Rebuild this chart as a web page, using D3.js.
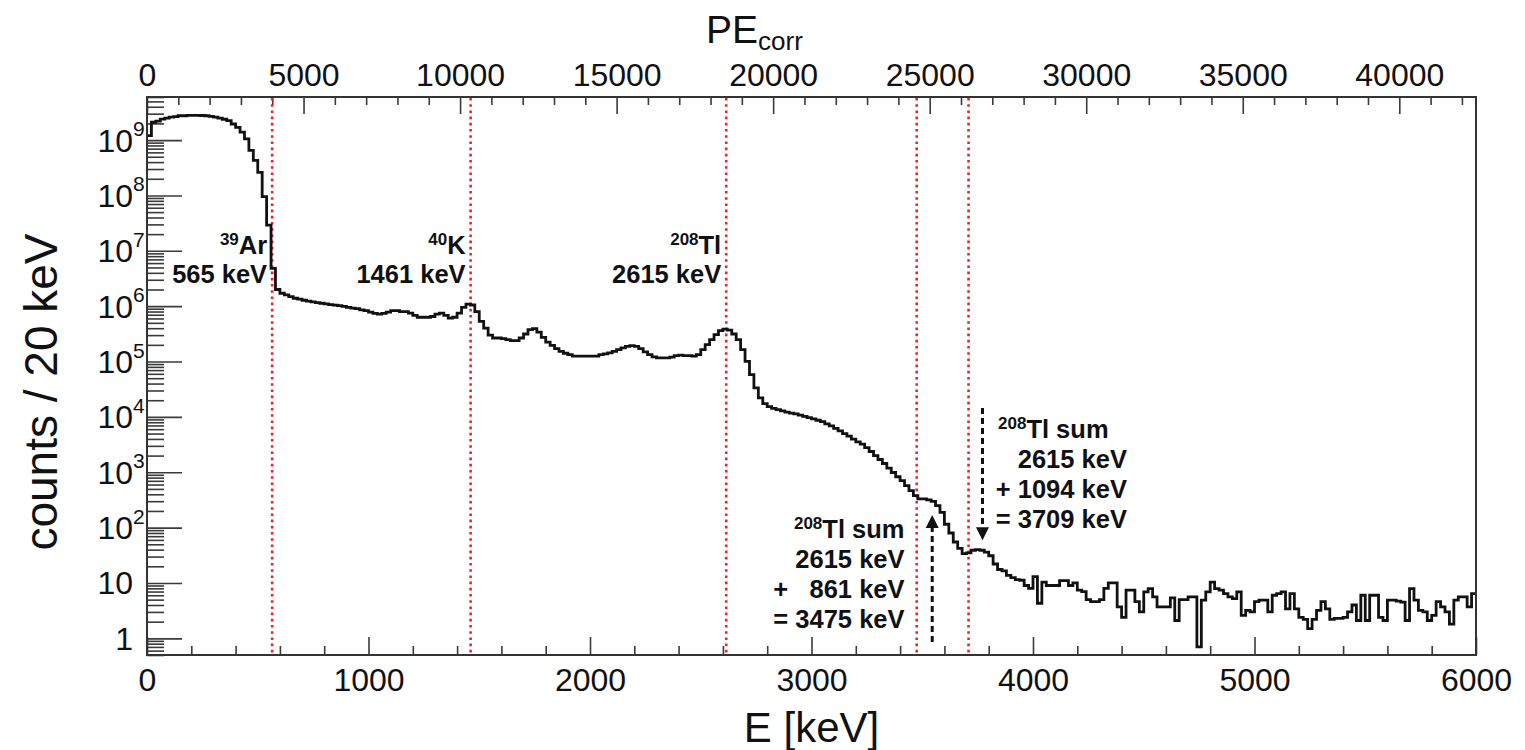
<!DOCTYPE html>
<html>
<head>
<meta charset="utf-8">
<script src="https://cdn.jsdelivr.net/npm/d3@7"></script>
<style>
  html, body { margin: 0; padding: 0; background: #fff; }
  svg { display: block; font-family: "Liberation Sans", Arial, Helvetica, sans-serif; }
  .ann { font-weight: bold; white-space: pre; fill: #111; }
</style>
</head>
<body>
<svg id="chart" width="1525" height="750"></svg>
<script>
// ---- data -------------------------------------------------------------
// Energy histogram, 20 keV bins from 0 to 6000 keV (counts per bin)
const binWidth = 20;
const counts = [
  1.2e9, 2.1e9, 2.2e9, 2.4e9, 2.5e9, 2.6e9, 2.65e9, 2.75e9, 2.75e9, 2.8e9,
  2.8e9, 2.8e9, 2.78e9, 2.75e9, 2.68e9, 2.6e9, 2.5e9, 2.38e9, 2.24e9, 1.95e9,
  1.7e9, 1.39e9, 1.05e9, 6.5e8, 4.3e8, 2.6e8, 9.5e7, 2.9e7, 4.8e6, 2.0e6,
  1.71e6, 1.6e6, 1.49e6, 1.39e6, 1.34e6, 1.28e6, 1.23e6, 1.2e6, 1.16e6, 1.13e6,
  1.1e6, 1.07e6, 1.04e6, 1.02e6, 9.9e5, 9.5e5, 9.2e5, 9.0e5, 8.6e5, 8.3e5,
  7.8e5, 7.4e5, 7.2e5, 7.4e5, 7.8e5, 8.3e5, 8.3e5, 8.0e5, 8.0e5, 7.5e5,
  6.8e5, 6.3e5, 6.3e5, 6.3e5, 6.5e5, 7.2e5, 7.5e5, 6.8e5, 6.1e5, 6.3e5,
  7.5e5, 9.5e5, 1.09e6, 1.05e6, 8.0e5, 5.3e5, 4.0e5, 3.0e5, 2.66e5, 2.66e5,
  2.59e5, 2.48e5, 2.39e5, 2.39e5, 2.66e5, 3.14e5, 3.76e5, 3.92e5, 3.41e5, 2.74e5,
  2.25e5, 1.96e5, 1.71e5, 1.53e5, 1.41e5, 1.33e5, 1.25e5, 1.25e5, 1.25e5, 1.25e5,
  1.25e5, 1.25e5, 1.33e5, 1.37e5, 1.43e5, 1.53e5, 1.64e5, 1.76e5, 1.88e5, 1.94e5,
  1.88e5, 1.71e5, 1.49e5, 1.33e5, 1.21e5, 1.16e5, 1.16e5, 1.16e5, 1.2e5, 1.28e5,
  1.3e5, 1.28e5, 1.28e5, 1.25e5, 1.33e5, 1.64e5, 2.02e5, 2.48e5, 3.06e5, 3.61e5,
  3.85e5, 3.7e5, 3.14e5, 2.48e5, 1.64e5, 1.01e5, 5.8e4, 3.35e4, 2.21e4, 1.73e4,
  1.53e4, 1.43e4, 1.35e4, 1.28e4, 1.22e4, 1.17e4, 1.13e4, 1.08e4, 1.02e4, 9.7e3,
  9.2e3, 8.7e3, 8.2e3, 7.5e3, 6.9e3, 6.2e3, 5.6e3, 5.0e3, 4.5e3, 3.95e3,
  3.54e3, 3.22e3, 2.79e3, 2.37e3, 2.0e3, 1.7e3, 1.44e3, 1.19e3, 990, 830,
  703, 571, 465, 378, 330, 330, 316, 298, 250, 189,
  115, 80, 55, 42, 34, 35, 39, 40, 39, 36,
  31, 22, 17.5, 16.5, 13.7, 12.5, 11.5, 11.2, 9, 8,
  13, 4.3, 10.4, 9, 9, 9, 11, 11, 9, 10,
  7.4, 7, 5, 4.6, 4.6, 5, 8, 10, 10, 3.7,
  2.4, 7.4, 7.4, 4.6, 3.0, 6.9, 7.9, 5.6, 3.7, 3.7,
  3.7, 5.4, 2.1, 5, 5, 5.6, 5.6, 0.7, 4.9, 6.9,
  10.4, 7.9, 7.4, 6.4, 5.6, 5.2, 6.9, 2.6, 3.2, 3.0,
  4.6, 4.9, 4.9, 3.0, 6.0, 6.4, 6.9, 3.4, 6.4, 3.4,
  2.4, 2.2, 1.5, 2.2, 3.2, 4.6, 3.4, 2.2, 2.3, 2.3,
  2.4, 3.0, 4.0, 2.1, 6.0, 2.1, 6.0, 6.0, 2.4, 2.1,
  4.9, 4.9, 4.7, 4.5, 2.1, 7.9, 4.9, 3.2, 3.0, 2.1,
  2.6, 4.6, 3.7, 3.0, 1.8, 4.9, 5.6, 5.6, 3.7, 6.4
];

// Axis ranges and tick values
const energyRange = [0, 6000];
const peRange = [0, 42450];
const countRange = [0.5, 6e9];
const energyTicks = [0, 1000, 2000, 3000, 4000, 5000, 6000];
const energyMinorStep = 200;
const peTicks = [0, 5000, 10000, 15000, 20000, 25000, 30000, 35000, 40000];
const peMinorStep = 1000;
const countDecades = [0, 1, 2, 3, 4, 5, 6, 7, 8, 9];

// Reference lines (keV) and their labels
const markerLines = [565, 1461, 2615, 3475, 3709];
const peakLabels = [
  { line: 565,  iso: "39",  el: "Ar", energy: "565 keV" },
  { line: 1461, iso: "40",  el: "K",  energy: "1461 keV" },
  { line: 2615, iso: "208", el: "Tl", energy: "2615 keV" }
];
const peakLabelLevel = 8.9e6;

// Summation peaks: text blocks and dashed arrows (energy in keV, heights in counts)
const sumBlocks = [
  { anchorE: 3420, level: 65,   lines: ["2615 keV", "+   861 keV", "= 3475 keV"], titleAlign: "end" },
  { anchorE: 4424, level: 4150, lines: ["2615 keV", "+ 1094 keV", "= 3709 keV"], titleAlign: "start", titleE: 3842 }
];
const sumArrows = [
  { e: 3545, tail: 0.86, tip: 169 },
  { e: 3772, tail: 14500, tip: 59 }
];

// ---- layout -----------------------------------------------------------
(function draw() {
const svg = d3.select("#chart");
const xL = 147, xR = 1476, yT = 97, yB = 655;
const x = d3.scaleLinear().domain(energyRange).range([xL, xR]);
const pe = d3.scaleLinear().domain(peRange).range([xL, xR]);
const y = d3.scaleLog().domain(countRange).range([yB, yT]);

const tickColor = "#3a3a3a";
const labelFont = 32;

function styleAxis(g) {
  g.select(".domain").remove();
  g.selectAll(".tick line").attr("stroke", tickColor).attr("stroke-width", 1.6);
  g.selectAll(".tick text").attr("fill", "#111").attr("font-size", labelFont)
    .attr("font-family", "Liberation Sans, Arial, sans-serif");
}

// bottom energy axis
const eMinor = d3.range(energyRange[0], energyRange[1] + 1, energyMinorStep)
  .filter(v => !energyTicks.includes(v));
svg.append("g").attr("transform", `translate(0,${yB})`)
  .call(d3.axisBottom(x).tickValues(eMinor).tickSizeInner(-9).tickSizeOuter(0).tickFormat(""))
  .call(styleAxis);
svg.append("g").attr("transform", `translate(0,${yB})`)
  .call(d3.axisBottom(x).tickValues(energyTicks).tickSizeInner(-18).tickSizeOuter(0).tickPadding(13).tickFormat(d3.format("d")))
  .call(styleAxis);

// top PE axis
const peMinor = d3.range(peRange[0], peRange[1], peMinorStep)
  .filter(v => !peTicks.includes(v));
svg.append("g").attr("transform", `translate(0,${yT})`)
  .call(d3.axisTop(pe).tickValues(peMinor).tickSizeInner(-8).tickSizeOuter(0).tickFormat(""))
  .call(styleAxis);
svg.append("g").attr("transform", `translate(0,${yT})`)
  .call(d3.axisTop(pe).tickValues(peTicks).tickSizeInner(-17).tickSizeOuter(0).tickPadding(11).tickFormat(d3.format("d")))
  .call(styleAxis);

// left log axis
const majorCounts = countDecades.map(d => Math.pow(10, d));
const minorCounts = [];
for (let d = -1; d <= 9; d++) {
  for (let m = 2; m <= 9; m++) {
    const v = m * Math.pow(10, d);
    if (v >= countRange[0] && v <= countRange[1]) minorCounts.push(v);
  }
}
svg.append("g").attr("transform", `translate(${xL},0)`)
  .call(d3.axisLeft(y).tickValues(minorCounts).tickSizeInner(-17).tickSizeOuter(0).tickFormat(""))
  .call(styleAxis);
svg.append("g").attr("transform", `translate(${xL},0)`)
  .call(d3.axisLeft(y).tickValues(majorCounts).tickSizeInner(-35).tickSizeOuter(0).tickFormat(""))
  .call(styleAxis);

// decade labels: 1, 10, 10^2 ... 10^9
const yLab = svg.append("g").attr("class", "ylabels");
countDecades.forEach(d => {
  const ty = y(Math.pow(10, d));
  const base = d === 0 ? "1" : "10";
  yLab.append("text").attr("x", xL - 14).attr("y", ty + 11.5)
    .attr("text-anchor", "end").attr("font-size", labelFont).attr("fill", "#111").text(base);
  if (d >= 2) {
    yLab.append("text").attr("x", xL - 14).attr("y", ty - 4)
      .attr("font-size", 21).attr("fill", "#111").text(String(d));
  }
});

// axis titles
svg.append("text").attr("transform", `translate(57,392) rotate(-90)`)
  .attr("text-anchor", "middle").attr("font-size", 46).attr("fill", "#111")
  .text("counts / 20 keV");
svg.append("text").attr("x", (xL + xR) / 2).attr("y", 742)
  .attr("text-anchor", "middle").attr("font-size", 42).attr("fill", "#111")
  .text("E [keV]");
const peTitle = svg.append("text").attr("x", 706).attr("y", 43).attr("font-size", 39).attr("fill", "#111");
peTitle.append("tspan").text("PE");
peTitle.append("tspan").attr("font-size", 26).attr("dy", 7).text("corr");

// dotted reference lines
svg.append("g").selectAll("line").data(markerLines).join("line")
  .attr("x1", d => x(d)).attr("x2", d => x(d))
  .attr("y1", y.range()[1] + 1).attr("y2", y.range()[0] - 1)
  .attr("stroke", "#f0202c").attr("stroke-width", 2.6).attr("stroke-dasharray", "2.6,3.6");

// histogram outline
const pts = counts.map((c, i) => [i * binWidth, c]);
pts.push([energyRange[1], counts[counts.length - 1]]);
svg.append("path").datum(pts)
  .attr("d", d3.line().x(d => x(d[0])).y(d => y(d[1])).curve(d3.curveStepAfter))
  .attr("fill", "none").attr("stroke", "#111").attr("stroke-width", 2.8)
  .attr("stroke-linejoin", "miter");

// frame
svg.append("rect").attr("x", xL).attr("y", yT).attr("width", xR - xL).attr("height", yB - yT)
  .attr("fill", "none").attr("stroke", "#333").attr("stroke-width", 2);

// peak labels
const annFont = 25.5, supFont = 17;
peakLabels.forEach(p => {
  const xr = x(p.line) - 5;
  const y1 = y(peakLabelLevel);
  const t = svg.append("text").attr("class", "ann").attr("x", xr).attr("y", y1)
    .attr("text-anchor", "end").attr("font-size", annFont);
  t.append("tspan").attr("font-size", supFont).attr("dy", -9).text(p.iso);
  t.append("tspan").attr("dy", 9).text(p.el);
  svg.append("text").attr("class", "ann").attr("x", xr).attr("y", y1 + 29)
    .attr("text-anchor", "end").attr("font-size", annFont).text(p.energy);
});

// summation blocks
sumBlocks.forEach(b => {
  const xr = x(b.anchorE);
  const y0 = y(b.level);
  const tx = b.titleAlign === "start" ? x(b.titleE) : xr;
  const t = svg.append("text").attr("class", "ann").attr("x", tx).attr("y", y0)
    .attr("text-anchor", b.titleAlign).attr("font-size", annFont);
  t.append("tspan").attr("font-size", supFont).attr("dy", -9).text("208");
  t.append("tspan").attr("dy", 9).text("Tl sum");
  b.lines.forEach((ln, i) => {
    svg.append("text").attr("class", "ann").attr("x", xr).attr("y", y0 + 30 * (i + 1))
      .attr("text-anchor", "end").attr("font-size", annFont).text(ln);
  });
});

// dashed arrows
sumArrows.forEach(a => {
  const ax = x(a.e), y0 = y(a.tail), y1 = y(a.tip);
  const dir = y1 < y0 ? -1 : 1;
  const headLen = 13, headW = 6.5;
  svg.append("line").attr("x1", ax).attr("x2", ax).attr("y1", y0).attr("y2", y1 - dir * headLen)
    .attr("stroke", "#111").attr("stroke-width", 3).attr("stroke-dasharray", "6,4");
  svg.append("path")
    .attr("d", `M${ax},${y1} L${ax - headW},${y1 - dir * headLen} L${ax + headW},${y1 - dir * headLen} Z`)
    .attr("fill", "#111");
});
})();
</script>
</body>
</html>
